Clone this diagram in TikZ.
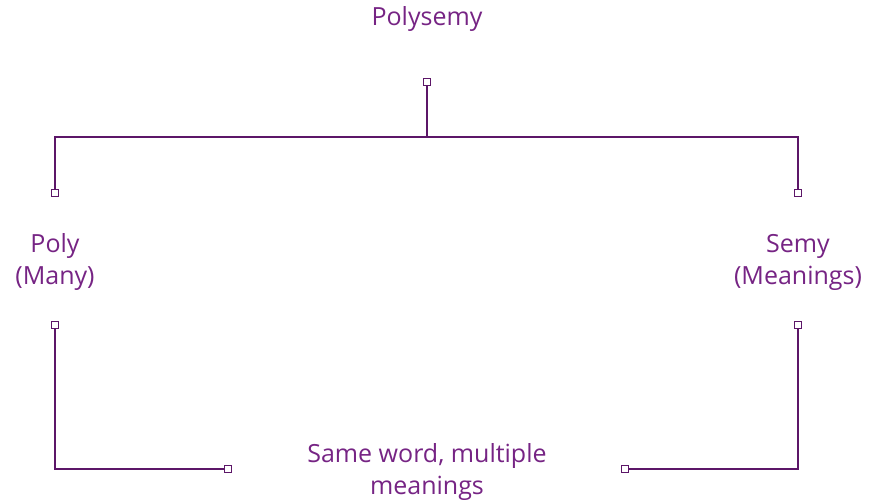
\documentclass[tikz,border=0pt]{standalone}
\usepackage{fontspec}
\setmainfont{Open Sans}
\definecolor{txtpurple}{RGB}{118,36,132}
\definecolor{linepurple}{RGB}{92,22,104}
\begin{document}
\begin{tikzpicture}[x=1pt,y=-1pt,
  label/.style={text=txtpurple,font=\fontsize{25}{32}\selectfont,align=center,inner sep=0pt},
  port/.style={draw=linepurple,line width=1.4pt,fill=white,minimum size=7pt,inner sep=0pt},
  wire/.style={draw=linepurple,line width=1.8pt}]
\useasboundingbox (0,0) rectangle (871,503);
% texts
\node[label] (root) at (427,19) {Polysemy};
\node[label] (poly) at (55,262) {Poly\\(Many)};
\node[label] (semy) at (798,262) {Semy\\(Meanings)};
\node[label] (same) at (427,472) {Same word, multiple\\meanings};
% branch points
\coordinate (hub) at (427,137);
\coordinate (hl) at (55,137);
\coordinate (hr) at (798,137);
\coordinate (bl) at (55,469);
\coordinate (br) at (798,469);
% upper tree
\draw[wire] (427,82) -- (hub);
\draw[wire] (55,193) -- (hl) -- (hr) -- (798,193);
% lower branches
\draw[wire] (55,325) -- (bl) -- (228,469);
\draw[wire] (798,325) -- (br) -- (625,469);
% connector ports
\node[port] (ptop) at (427,82) {};
\node[port] (pl1) at (55,193) {};
\node[port] (pr1) at (798,193) {};
\node[port] (pl2) at (55,325) {};
\node[port] (pr2) at (798,325) {};
\node[port] (pl3) at (228,469) {};
\node[port] (pr3) at (625,469) {};
\end{tikzpicture}
\end{document}
